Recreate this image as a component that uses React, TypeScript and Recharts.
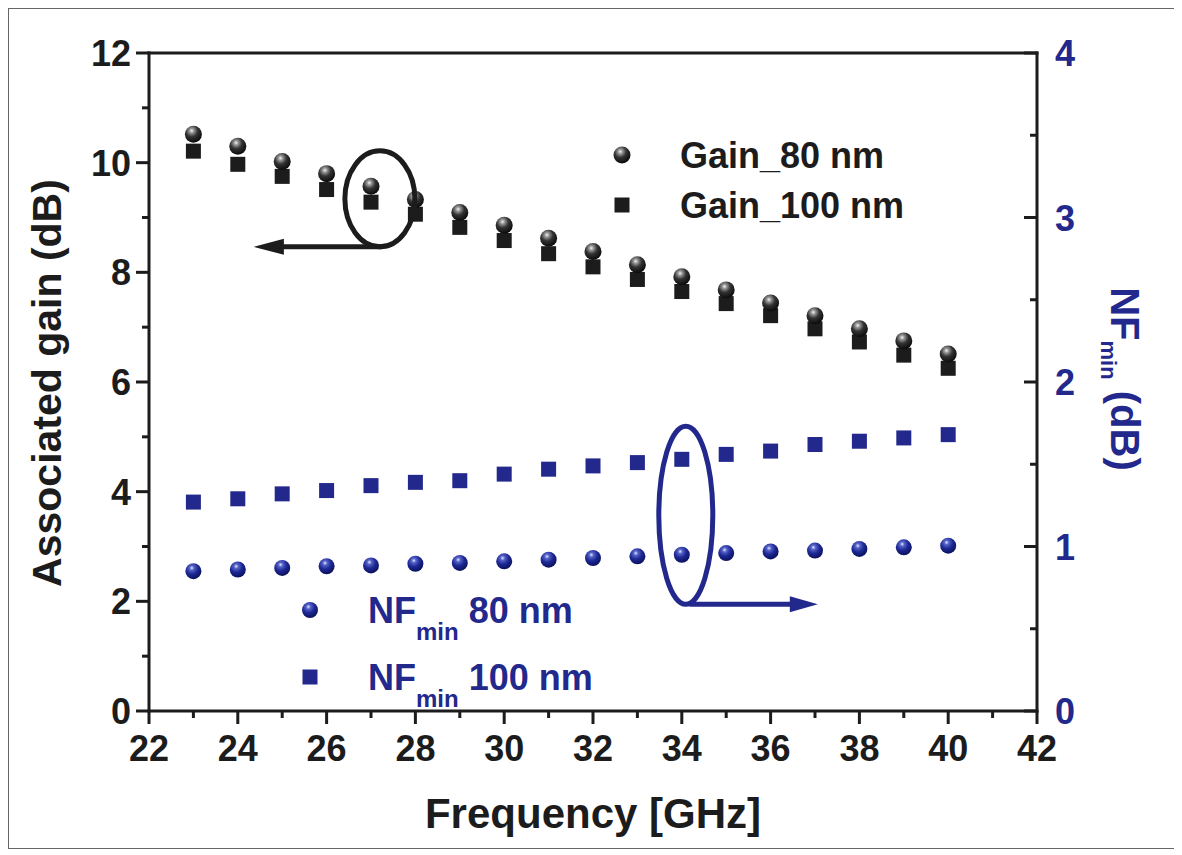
import React from 'react'
import { ScatterChart, Scatter, XAxis, YAxis, ReferenceDot } from 'recharts'

const freq = [23, 24, 25, 26, 27, 28, 29, 30, 31, 32, 33, 34, 35, 36, 37, 38, 39, 40]
const gain80 = [10.52, 10.3, 10.02, 9.8, 9.57, 9.33, 9.09, 8.86, 8.62, 8.38, 8.14, 7.92, 7.68, 7.44, 7.21, 6.97, 6.75, 6.51]
const gain100 = [10.21, 9.97, 9.75, 9.51, 9.28, 9.06, 8.82, 8.58, 8.34, 8.1, 7.87, 7.65, 7.43, 7.21, 6.97, 6.73, 6.49, 6.25]
const nf80 = [0.85, 0.86, 0.87, 0.88, 0.885, 0.895, 0.9, 0.91, 0.92, 0.93, 0.94, 0.95, 0.96, 0.97, 0.975, 0.985, 0.995, 1.005]
const nf100 = [1.27, 1.29, 1.32, 1.34, 1.37, 1.39, 1.4, 1.44, 1.47, 1.49, 1.51, 1.53, 1.56, 1.58, 1.62, 1.64, 1.66, 1.68]

const xTicks = [22, 23, 24, 25, 26, 27, 28, 29, 30, 31, 32, 33, 34, 35, 36, 37, 38, 39, 40, 41, 42]
const gainTicks = [0, 1, 2, 3, 4, 5, 6, 7, 8, 9, 10, 11, 12]
const nfTicks = [0, 0.5, 1, 1.5, 2, 2.5, 3, 3.5, 4]

const INK = '#1c1c1c'
const BLUE = '#23288c'
const FONT = '"Liberation Sans", Arial, Helvetica, sans-serif'

const toRows = (ys: number[]) => freq.map((f, i) => ({ f, v: ys[i] }))
const gain80Data = toRows(gain80)
const gain100Data = toRows(gain100)
const nf80Data = toRows(nf80)
const nf100Data = toRows(nf100)

const axisStroke = { stroke: INK, strokeWidth: 3, strokeLinecap: 'square' as const }

// bottom ticks: outward, labels on even values
const BottomTick = (props: any) => {
  const { x, y, payload } = props
  const major = payload.value % 2 === 0
  return (
    <g>
      <line x1={x} y1={y} x2={x} y2={y + (major ? 13 : 7)} stroke={INK} strokeWidth={3} />
      {major && (
        <text x={x} y={y + 50} textAnchor="middle" fontFamily={FONT} fontWeight="bold" fontSize={36} fill={INK}>
          {payload.value}
        </text>
      )}
    </g>
  )
}

// top ticks point into the plot
const TopTick = (props: any) => {
  const { x, y, payload } = props
  const major = payload.value % 2 === 0
  return <line x1={x} y1={y} x2={x} y2={y + (major ? 14 : 7)} stroke={INK} strokeWidth={3} />
}

const LeftTick = (props: any) => {
  const { x, y, payload } = props
  const major = payload.value % 2 === 0
  return (
    <g>
      <line x1={x} y1={y} x2={x - (major ? 13 : 7)} y2={y} stroke={INK} strokeWidth={3} />
      {major && (
        <text x={x - 18} y={y + 13} textAnchor="end" fontFamily={FONT} fontWeight="bold" fontSize={36} fill={INK}>
          {payload.value}
        </text>
      )}
    </g>
  )
}

// right axis ticks point into the plot, blue labels
const RightTick = (props: any) => {
  const { x, y, payload } = props
  const major = Number.isInteger(payload.value)
  return (
    <g>
      <line x1={x} y1={y} x2={x - (major ? 13 : 7)} y2={y} stroke={INK} strokeWidth={3} />
      {major && (
        <text x={x + 18} y={y + 13} textAnchor="start" fontFamily={FONT} fontWeight="bold" fontSize={36} fill={BLUE}>
          {payload.value}
        </text>
      )}
    </g>
  )
}

const Sphere = ({ cx, cy, fill, r = 8.5 }: any) => <circle cx={cx} cy={cy} r={r} fill={fill} />
const Square = ({ cx, cy, fill, s = 15 }: any) => <rect x={cx - s / 2} y={cy - s / 2} width={s} height={s} fill={fill} />

const GrayStops = () => (
  <>
    <stop offset="0%" stopColor="#f4f4f4" />
    <stop offset="18%" stopColor="#9a9a9a" />
    <stop offset="50%" stopColor="#333" />
    <stop offset="100%" stopColor="#0a0a0a" />
  </>
)
const BlueStops = () => (
  <>
    <stop offset="0%" stopColor="#e4e8ff" />
    <stop offset="20%" stopColor="#5663c8" />
    <stop offset="55%" stopColor="#1d2894" />
    <stop offset="100%" stopColor="#0b115c" />
  </>
)

export default function App() {
  return (
    <div style={{ position: 'relative', width: 1168, height: 839, border: '1px solid #666', background: '#fff' }}>
      <ScatterChart width={1168} height={839} margin={{ top: 43, right: 60, bottom: 77, left: 60 }}>
        <defs>
          <radialGradient id="graySphere" cx="40%" cy="30%" r="70%">
            <GrayStops />
          </radialGradient>
          <radialGradient id="blueSphere" cx="40%" cy="30%" r="70%">
            <BlueStops />
          </radialGradient>
        </defs>
        <XAxis
          xAxisId="x"
          dataKey="f"
          type="number"
          domain={[22, 42]}
          ticks={xTicks}
          interval={0}
          height={60}
          tickSize={0}
          tickMargin={0}
          tickLine={false}
          axisLine={axisStroke}
          tick={<BottomTick />}
        />
        <XAxis
          xAxisId="xt"
          orientation="top"
          type="number"
          domain={[22, 42]}
          ticks={xTicks}
          interval={0}
          height={1}
          tickSize={0}
          tickMargin={0}
          tickLine={false}
          axisLine={axisStroke}
          tick={<TopTick />}
        />
        <YAxis
          yAxisId="g"
          dataKey="v"
          type="number"
          domain={[0, 12]}
          ticks={gainTicks}
          interval={0}
          width={80}
          tickSize={0}
          tickMargin={0}
          tickLine={false}
          axisLine={axisStroke}
          tick={<LeftTick />}
        />
        <YAxis
          yAxisId="n"
          orientation="right"
          dataKey="v"
          type="number"
          domain={[0, 4]}
          ticks={nfTicks}
          interval={0}
          width={80}
          tickSize={0}
          tickMargin={0}
          tickLine={false}
          axisLine={axisStroke}
          tick={<RightTick />}
        />
        <Scatter name="Gain_100 nm" data={gain100Data} xAxisId="x" yAxisId="g" isAnimationActive={false}
          shape={(p: any) => <Square cx={p.cx} cy={p.cy} fill={INK} />} />
        <Scatter name="Gain_80 nm" data={gain80Data} xAxisId="x" yAxisId="g" isAnimationActive={false}
          shape={(p: any) => <Sphere cx={p.cx} cy={p.cy} fill="url(#graySphere)" />} />
        <Scatter name="NFmin 100 nm" data={nf100Data} xAxisId="x" yAxisId="n" isAnimationActive={false}
          shape={(p: any) => <Square cx={p.cx} cy={p.cy} fill={BLUE} />} />
        <Scatter name="NFmin 80 nm" data={nf80Data} xAxisId="x" yAxisId="n" isAnimationActive={false}
          shape={(p: any) => <Sphere cx={p.cx} cy={p.cy} r={8} fill="url(#blueSphere)" />} />
        {/* gain ellipse, arrow to the left axis */}
        <ReferenceDot
          x={27.2}
          y={9.34}
          xAxisId="x"
          yAxisId="g"
          r={0}
          shape={(p: any) => (
            <g>
              <ellipse cx={p.cx} cy={p.cy} rx={35} ry={48} fill="none" stroke={INK} strokeWidth={5} />
              <line x1={p.cx + 2} y1={p.cy + 48} x2={p.cx - 100} y2={p.cy + 48} stroke={INK} strokeWidth={5} />
              <polygon
                points={`${p.cx - 126},${p.cy + 48} ${p.cx - 96},${p.cy + 40} ${p.cx - 96},${p.cy + 56}`}
                fill={INK}
              />
            </g>
          )}
        />
        {/* NF ellipse, arrow to the right axis */}
        <ReferenceDot
          x={34.09}
          y={1.19}
          xAxisId="x"
          yAxisId="n"
          r={0}
          shape={(p: any) => (
            <g>
              <ellipse cx={p.cx} cy={p.cy} rx={27} ry={89} fill="none" stroke={BLUE} strokeWidth={5} />
              <line x1={p.cx + 4} y1={p.cy + 89} x2={p.cx + 110} y2={p.cy + 89} stroke={BLUE} strokeWidth={5} />
              <polygon
                points={`${p.cx + 132},${p.cy + 89} ${p.cx + 104},${p.cy + 81} ${p.cx + 104},${p.cy + 97}`}
                fill={BLUE}
              />
            </g>
          )}
        />
      </ScatterChart>
      <svg width={1168} height={839} style={{ position: 'absolute', left: 0, top: 0, pointerEvents: 'none' }}>
        <defs>
          <radialGradient id="graySphereL" cx="40%" cy="30%" r="70%">
            <GrayStops />
          </radialGradient>
          <radialGradient id="blueSphereL" cx="40%" cy="30%" r="70%">
            <BlueStops />
          </radialGradient>
        </defs>
        <g fontFamily={FONT} fontWeight="bold">
          {/* axis titles */}
          <text transform="translate(38,374) rotate(-90)" textAnchor="middle" dominantBaseline="central" fontSize={41} fill={INK}>
            Associated gain (dB)
          </text>
          <text x={584} y={819} textAnchor="middle" fontSize={42} fill={INK}>
            Frequency [GHz]
          </text>
          <text transform="translate(1116,370) rotate(90)" textAnchor="middle" dominantBaseline="central" fontSize={40} fill={BLUE}>
            <tspan>NF</tspan>
            <tspan fontSize={22} dy={16}>min</tspan>
            <tspan dy={-16}>  (dB)</tspan>
          </text>

          {/* gain legend */}
          <Sphere cx={613} cy={146} fill="url(#graySphereL)" />
          <text x={671} y={159} fontSize={36} fill={INK}>Gain_80 nm</text>
          <Square cx={613} cy={196} fill={INK} />
          <text x={671} y={209} fontSize={36} fill={INK}>Gain_100 nm</text>

          {/* NF legend */}
          <Sphere cx={301} cy={601} r={8} fill="url(#blueSphereL)" />
          <text x={359} y={614} fontSize={36} fill={BLUE}>
            <tspan>NF</tspan>
            <tspan fontSize={24} dy={17}>min</tspan>
            <tspan dy={-17}> 80 nm</tspan>
          </text>
          <Square cx={301} cy={668} fill={BLUE} />
          <text x={359} y={681} fontSize={36} fill={BLUE}>
            <tspan>NF</tspan>
            <tspan fontSize={24} dy={17}>min</tspan>
            <tspan dy={-17}> 100 nm</tspan>
          </text>
        </g>
      </svg>
    </div>
  )
}
